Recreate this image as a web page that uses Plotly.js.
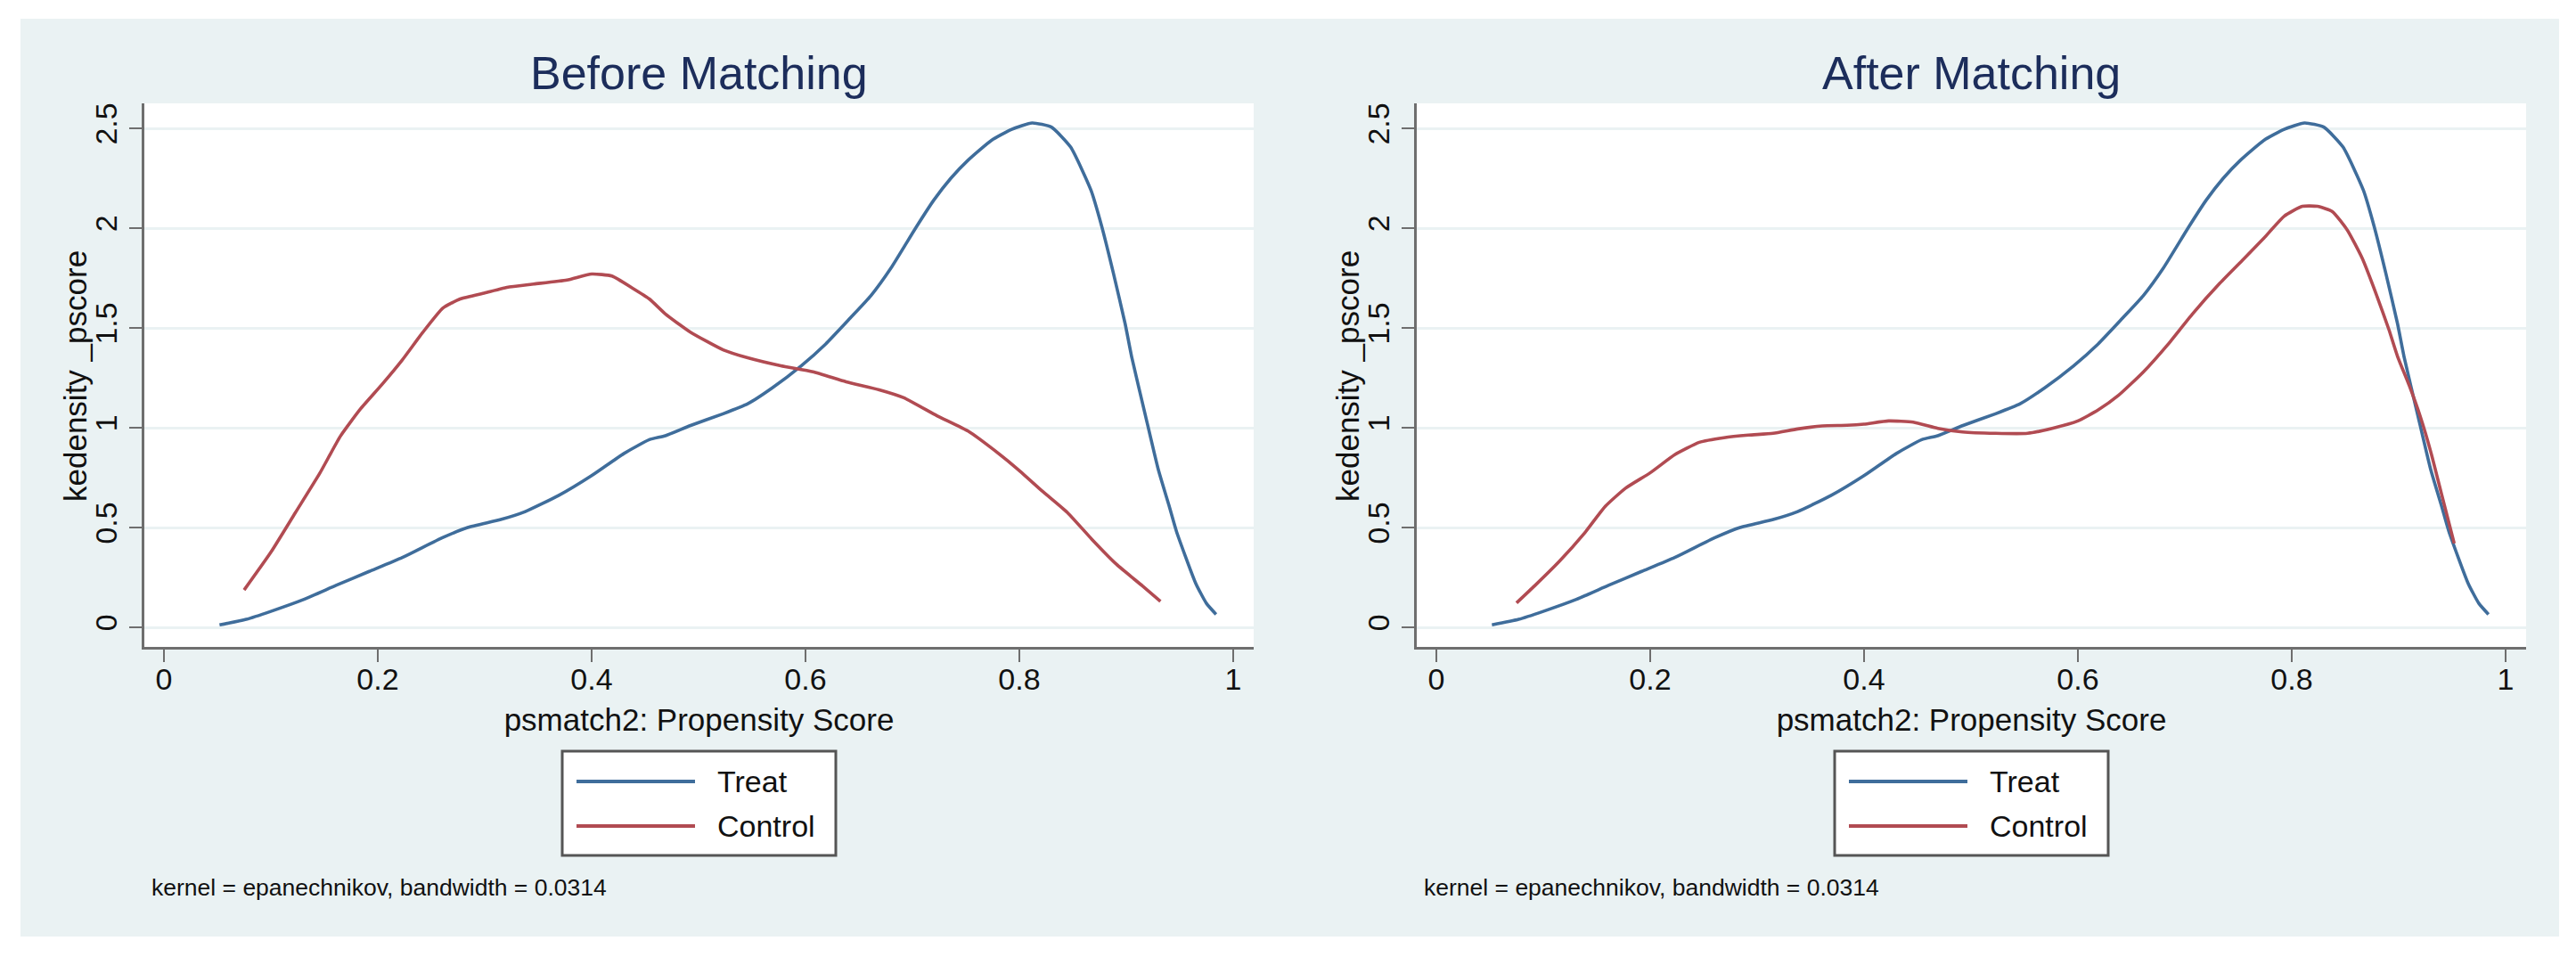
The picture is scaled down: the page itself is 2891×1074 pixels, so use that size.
<!DOCTYPE html>
<html>
<head>
<meta charset="utf-8">
<script src="https://cdn.plot.ly/plotly-3.0.1.min.js"></script>
<style>
  html, body { margin: 0; padding: 0; background: #ffffff; }
  #chart { position: absolute; left: 23px; top: 21px; width: 2849px; height: 1030px; }
</style>
</head>
<body>
<div id="chart"></div>
<script>
// ---------------- data ----------------
const panelTitles = ["Before Matching", "After Matching"];
const seriesNames = ["Treat", "Control"];
const xTickVals = [0, 0.2, 0.4, 0.6, 0.8, 1];
const xTickText = ["0", "0.2", "0.4", "0.6", "0.8", "1"];
const yTickVals = [0, 0.5, 1, 1.5, 2, 2.5];
const yTickText = ["0", "0.5", "1", "1.5", "2", "2.5"];
const xTitle = "psmatch2: Propensity Score";
const yTitle = "kedensity _pscore";
const noteText = "kernel = epanechnikov, bandwidth = 0.0314";

// Treated group density (identical in both panels)
const treatX = [0.052, 0.077, 0.100, 0.131, 0.161, 0.192, 0.223, 0.261, 0.284, 0.315,
                0.338, 0.369, 0.400, 0.430, 0.454, 0.469, 0.492, 0.523, 0.546, 0.569,
                0.596, 0.619, 0.642, 0.661, 0.680, 0.703, 0.720, 0.736, 0.752, 0.774,
                0.793, 0.812, 0.830, 0.848, 0.867, 0.877, 0.888, 0.899, 0.905, 0.918,
                0.930, 0.940, 0.947, 0.965, 0.975, 0.984];
const treatY = [0.012, 0.040, 0.080, 0.140, 0.210, 0.280, 0.350, 0.450, 0.500, 0.540,
                0.580, 0.660, 0.760, 0.870, 0.940, 0.960, 1.010, 1.070, 1.120, 1.200,
                1.310, 1.420, 1.550, 1.660, 1.800, 2.000, 2.140, 2.250, 2.340, 2.440,
                2.495, 2.527, 2.506, 2.406, 2.190, 2.010, 1.774, 1.520, 1.357, 1.060,
                0.790, 0.610, 0.480, 0.220, 0.120, 0.065];

// Control group density before matching
const ctrlBeforeX = [0.075, 0.100, 0.123, 0.146, 0.165, 0.184, 0.204, 0.223, 0.242, 0.261,
                     0.277, 0.300, 0.323, 0.346, 0.377, 0.400, 0.419, 0.438, 0.454, 0.469,
                     0.492, 0.523, 0.546, 0.577, 0.607, 0.638, 0.669, 0.692, 0.723, 0.753,
                     0.776, 0.799, 0.822, 0.845, 0.868, 0.891, 0.915, 0.932];
const ctrlBeforeY = [0.187, 0.376, 0.575, 0.774, 0.957, 1.095, 1.217, 1.340, 1.477, 1.600,
                     1.645, 1.675, 1.705, 1.720, 1.740, 1.770, 1.760, 1.700, 1.645, 1.570,
                     1.480, 1.390, 1.350, 1.310, 1.280, 1.230, 1.190, 1.150, 1.060, 0.980,
                     0.890, 0.790, 0.680, 0.575, 0.440, 0.315, 0.208, 0.130];

// Control group density after matching
const ctrlAfterX = [0.075, 0.092, 0.115, 0.138, 0.158, 0.177, 0.200, 0.223, 0.246, 0.269,
                    0.292, 0.315, 0.338, 0.361, 0.384, 0.400, 0.423, 0.446, 0.469, 0.492,
                    0.523, 0.553, 0.576, 0.600, 0.619, 0.638, 0.661, 0.684, 0.707, 0.733,
                    0.755, 0.774, 0.793, 0.810, 0.824, 0.838, 0.852, 0.866, 0.880, 0.891,
                    0.899, 0.910, 0.920, 0.930, 0.940, 0.952];
const ctrlAfterY = [0.122, 0.208, 0.330, 0.468, 0.606, 0.697, 0.774, 0.865, 0.927, 0.950,
                    0.963, 0.972, 0.994, 1.009, 1.012, 1.018, 1.034, 1.028, 0.997, 0.979,
                    0.972, 0.972, 0.997, 1.034, 1.089, 1.162, 1.278, 1.416, 1.569, 1.725,
                    1.845, 1.950, 2.060, 2.109, 2.109, 2.083, 1.990, 1.848, 1.655, 1.490,
                    1.357, 1.210, 1.060, 0.880, 0.670, 0.420];

// ---------------- styling ----------------
const W = 2849, H = 1030;
const px = v => v / W;
const py = v => 1 - v / H;
const BLUE = "#3f6d9b";
const RED = "#b14b52";
const AXIS = "#6e6e6e";
const TXT = "#111111";
const BG = "#EAF2F3";
const FONT = "Liberation Sans, Arial, Helvetica, sans-serif";
const panelShift = 1428;

function lineTrace(x, y, name, color, xa, ya) {
  return {
    type: "scatter", mode: "lines", x: x, y: y, name: name,
    xaxis: xa, yaxis: ya, showlegend: false,
    line: { color: color, width: 3.6, shape: "spline", smoothing: 0.5 },
    hoverinfo: "skip"
  };
}

const data = [
  lineTrace(treatX, treatY, seriesNames[0], BLUE, "x", "y"),
  lineTrace(ctrlBeforeX, ctrlBeforeY, seriesNames[1], RED, "x", "y"),
  lineTrace(treatX, treatY, seriesNames[0], BLUE, "x2", "y2"),
  lineTrace(ctrlAfterX, ctrlAfterY, seriesNames[1], RED, "x2", "y2")
];

function xAxis(domain, anchor) {
  return {
    domain: domain, anchor: anchor,
    range: [-0.0183, 1.0192],
    tickmode: "array", tickvals: xTickVals, ticktext: xTickText,
    showgrid: false, zeroline: false,
    showline: true, linecolor: AXIS, linewidth: 3,
    ticks: "outside", ticklen: 14, tickwidth: 2.5, tickcolor: AXIS,
    ticklabelstandoff: -10,
    tickfont: { size: 34, color: TXT, family: FONT },
    title: { text: xTitle, font: { size: 35, color: TXT, family: FONT }, standoff: 16 },
    automargin: false, fixedrange: true
  };
}
function yAxis(anchor) {
  return {
    domain: [py(705), py(95)], anchor: anchor,
    range: [-0.0982, 2.625],
    tickmode: "array", tickvals: yTickVals, ticktext: yTickText,
    tickangle: -90,
    showgrid: true, gridcolor: BG, gridwidth: 3,
    zeroline: false,
    showline: true, linecolor: AXIS, linewidth: 3,
    ticks: "outside", ticklen: 14, tickwidth: 2.5, tickcolor: AXIS,
    tickfont: { size: 34, color: TXT, family: FONT },
    automargin: false, fixedrange: true
  };
}

// legend boxes (one per panel), drawn in paper coordinates
const shapes = [];
const annotations = [];
[0, 1].forEach(function (p) {
  const dx = p * panelShift;
  shapes.push({ type: "rect", xref: "paper", yref: "paper",
    x0: px(608 + dx), x1: px(915 + dx), y0: py(939), y1: py(822),
    line: { color: "#555555", width: 3 }, fillcolor: "#ffffff", layer: "above" });
  [[BLUE, 856, seriesNames[0]], [RED, 906, seriesNames[1]]].forEach(function (it) {
    shapes.push({ type: "line", xref: "paper", yref: "paper",
      x0: px(624 + dx), x1: px(757 + dx), y0: py(it[1]), y1: py(it[1]),
      line: { color: it[0], width: 4 }, layer: "above" });
    annotations.push({ text: it[2], xref: "paper", yref: "paper",
      x: px(780 + dx), y: py(it[1]), xanchor: "left", yanchor: "middle",
      showarrow: false, font: { size: 34, color: TXT, family: FONT } });
  });
  annotations.push({ text: panelTitles[p], xref: p ? "x2 domain" : "x domain", x: 0.5,
    yref: "paper", y: py(61), xanchor: "center", yanchor: "middle", showarrow: false,
    font: { size: 52, color: "#1c2d5b", family: FONT } });
  annotations.push({ text: yTitle, textangle: -90, xref: "paper", x: px(61 + dx),
    yref: "paper", y: py(401), xanchor: "center", yanchor: "middle", showarrow: false,
    font: { size: 35, color: TXT, family: FONT } });
  annotations.push({ text: noteText, xref: "paper", x: px(145 + dx), yref: "paper",
    y: py(975), xanchor: "left", yanchor: "middle", showarrow: false,
    font: { size: 26.5, color: TXT, family: FONT } });
});

const layout = {
  width: W, height: H,
  margin: { l: 0, r: 0, t: 0, b: 0, pad: 0 },
  paper_bgcolor: BG,
  plot_bgcolor: "#ffffff",
  font: { family: FONT, color: TXT },
  showlegend: false,
  xaxis: xAxis([px(139), px(1384)], "y"),
  yaxis: yAxis("x"),
  xaxis2: xAxis([px(139 + panelShift), px(1384 + panelShift)], "y2"),
  yaxis2: yAxis("x2"),
  shapes: shapes,
  annotations: annotations
};

Plotly.newPlot("chart", data, layout, { displayModeBar: false, staticPlot: true });
</script>
</body>
</html>
